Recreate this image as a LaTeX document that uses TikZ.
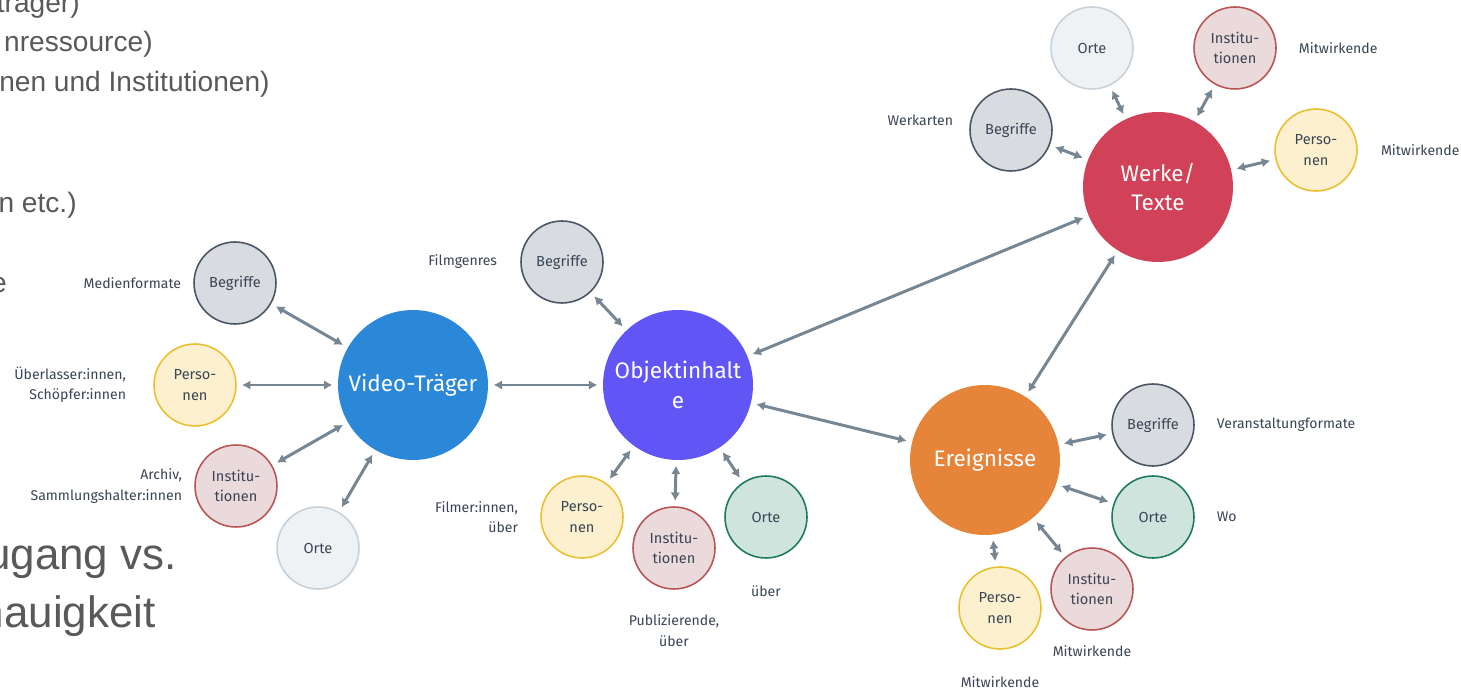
\documentclass[tikz,border=0pt]{standalone}
\usepackage{xcolor}
\usepackage{fontspec}
\setmainfont{Fira Sans}
\newfontfamily\slidefont{Liberation Sans}
\usepackage{tikz}
\usetikzlibrary {positioning}
\usetikzlibrary{arrows.meta}
\definecolor{pfeil}{HTML}{768693}
\definecolor{schrift}{HTML}{3A4555}
\definecolor{folie}{HTML}{595959}
\definecolor{blau}{HTML}{2B87D8}
\definecolor{lila}{HTML}{6155F5}
\definecolor{rot}{HTML}{D14157}
\definecolor{orange}{HTML}{E6843A}
\tikzset{edge/.style = {<->,> = {Latex[length=4.8pt,width=5.4pt]}, color=pfeil, line width=1.7pt, shorten >=3pt, shorten <=3pt}}

\begin{document}
\begin{tikzpicture}[x=0.02cm,y=-0.02cm,
    main node/.style={circle,minimum size=3cm,inner sep=0pt,text=white,align=center,font=\fontsize{12.8}{17}\selectfont},
    small node/.style={circle,draw,line width=0.9pt,minimum size=1.64cm,inner sep=0pt,align=center,text=schrift,font=\fontsize{8.3}{11.5}\selectfont},
    note/.style={text=schrift,align=right,font=\fontsize{8}{11.5}\selectfont}]
    \tikzset{begriff/.style={small node,draw={rgb,255:red,74;green,85;blue,102},fill={rgb,255:red,216;green,219;blue,223}},
        person/.style={small node,draw={rgb,255:red,235;green,192;blue,48},fill={rgb,255:red,252;green,240;blue,206}},
        inst/.style={small node,draw={rgb,255:red,184;green,85;blue,85},fill={rgb,255:red,235;green,218;blue,219}},
        ort/.style={small node,draw={rgb,255:red,200;green,208;blue,216},fill={rgb,255:red,238;green,242;blue,245}},
        ortgruen/.style={small node,draw={rgb,255:red,30;green,122;blue,94},fill={rgb,255:red,208;green,228;blue,222}}}
    \clip (0,0) rectangle (1461,688);
    \fill[white] (0,0) rectangle (1461,688);

    % Folientext am linken Rand
    \begin{scope}[every node/.style={text=folie,anchor=base east,inner sep=0pt}]
        \node (f1) at (80,13) {\slidefont\fontsize{16}{19}\selectfont träger)};
        \node (f2) at (153,52) {\slidefont\fontsize{16}{19}\selectfont nressource)};
        \node (f3) at (270,92) {\slidefont\fontsize{16}{19}\selectfont nen und Institutionen)};
        \node (f4) at (77,213) {\slidefont\fontsize{16}{19}\selectfont n etc.)};
        \node (f5) at (7,293) {\slidefont\fontsize{16}{19}\selectfont e};
        \node (f6) at (177,570) {\slidefont\fontsize{25}{30}\selectfont ugang vs.};
        \node (f7) at (156,628) {\slidefont\fontsize{25}{30}\selectfont nauigkeit};
    \end{scope}

    % Hauptknoten
    \node[main node,fill=blau] (vt) at (413,385) {Video-Träger};
    \node[main node,fill=lila] (oi) at (678,385) {Objektinhalt\\e};
    \node[main node,fill=rot] (wt) at (1158,187) {Werke/\\Texte};
    \node[main node,fill=orange] (er) at (985,460) {Ereignisse};

    % Video-Träger
    \node[begriff] (vtb) at (235,283) {Begriffe};
    \node[person] (vtp) at (195,385) {Perso-\\nen};
    \node[inst] (vti) at (236,486) {Institu-\\tionen};
    \node[ort] (vto) at (318,548) {Orte};
    \node[note] (lvtb) [left=0.12cm of vtb] {Medienformate};
    \node[note] (lvtp) [left=0.42cm of vtp] {Überlasser:innen,\\Schöpfer:innen};
    \node[note] (lvti) [left=0.12cm of vti] {Archiv,\\Sammlungshalter:innen};

    % Objektinhalte
    \node[begriff] (oib) at (562,262) {Begriffe};
    \node[person] (oip) at (582,517) {Perso-\\nen};
    \node[inst] (oii) at (674,548) {Institu-\\tionen};
    \node[ortgruen] (oio) at (766,517) {Orte};
    \node[note] (loib) [left=0.34cm of oib] {Filmgenres};
    \node[note] (loip) [left=0.32cm of oip] {Filmer:innen,\\über};
    \node[note,align=center] (loii) [below=0.38cm of oii] {Publizierende,\\über};
    \node[note,align=center] (loio) [below=0.42cm of oio] {über};

    % Werke/Texte
    \node[ort] (wto) at (1092,48) {Orte};
    \node[inst] (wti) at (1235,48) {Institu-\\tionen};
    \node[begriff] (wtb) at (1011,130) {Begriffe};
    \node[person] (wtp) at (1316,150) {Perso-\\nen};
    \node[note] (lwti) [right=0.32cm of wti] {Mitwirkende};
    \node[note] (lwtp) [right=0.34cm of wtp] {Mitwirkende};
    \node[note] (lwtb) [left=0.2cm of wtb, yshift=0.2cm] {Werkarten};

    % Ereignisse
    \node[begriff] (erb) at (1153,425) {Begriffe};
    \node[ortgruen] (ero) at (1153,517) {Orte};
    \node[inst] (eri) at (1092,589) {Institu-\\tionen};
    \node[person] (erp) at (1000,608) {Perso-\\nen};
    \node[note,align=left] (lerb) [right=0.32cm of erb] {Veranstaltungformate};
    \node[note,align=left] (lero) [right=0.32cm of ero] {Wo};
    \node[note,align=center] (leri) [below=0.18cm of eri] {Mitwirkende};
    \node[note,align=center] (lerp) [below=0.42cm of erp] {Mitwirkende};

    \path[edge] (vt) edge (oi)
        (oi) edge (wt)
        (oi) edge (er)
        (er) edge (wt);
    \path[edge] (vt) edge (vtb)
        (vt) edge (vtp)
        (vt) edge (vti)
        (vt) edge (vto);
    \path[edge] (oi) edge (oib)
        (oi) edge (oip)
        (oi) edge (oii)
        (oi) edge (oio);
    \path[edge] (wt) edge (wto)
        (wt) edge (wti)
        (wt) edge (wtb)
        (wt) edge (wtp);
    \path[edge] (er) edge (erb)
        (er) edge (ero)
        (er) edge (eri)
        (er) edge (erp);
\end{tikzpicture}
\end{document}
